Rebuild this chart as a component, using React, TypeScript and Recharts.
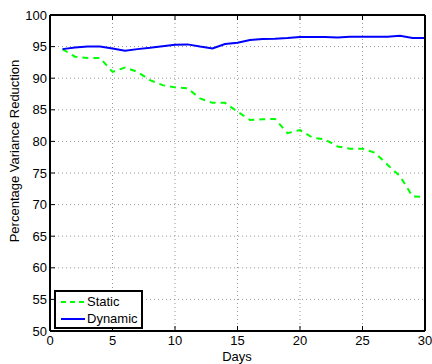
import {
  LineChart,
  Line,
  XAxis,
  YAxis,
  CartesianGrid,
} from 'recharts'

const days = [1, 2, 3, 4, 5, 6, 7, 8, 9, 10, 11, 12, 13, 14, 15, 16, 17, 18, 19, 20, 21, 22, 23, 24, 25, 26, 27, 28, 29, 30]
const staticValues = [94.6, 93.4, 93.2, 93.2, 91.0, 91.7, 91.0, 89.7, 88.9, 88.55, 88.4, 86.8, 86.1, 86.1, 84.7, 83.4, 83.5, 83.55, 81.3, 81.8, 80.6, 80.3, 79.2, 78.85, 78.85, 78.2, 76.3, 74.5, 71.3, 71.2]
const dynamicValues = [94.6, 94.85, 95.0, 95.0, 94.7, 94.35, 94.6, 94.8, 95.05, 95.3, 95.35, 95.0, 94.7, 95.4, 95.6, 96.05, 96.2, 96.25, 96.35, 96.5, 96.5, 96.5, 96.45, 96.55, 96.55, 96.55, 96.55, 96.7, 96.35, 96.35]
const xTicks = [0, 5, 10, 15, 20, 25, 30]
const yTicks = [50, 55, 60, 65, 70, 75, 80, 85, 90, 95, 100]

const data = days.map((d, i) => ({ day: d, Static: staticValues[i], Dynamic: dynamicValues[i] }))

const FONT = '"Liberation Sans", Arial, sans-serif'
const tickStyle = { fontSize: 13, fill: '#000', fontFamily: FONT }
const blank = () => ''

function LegendBox() {
  const items = [
    { name: 'Static', color: '#00ff00', dash: '5 4' },
    { name: 'Dynamic', color: '#0000ff', dash: undefined },
  ]
  return (
    <div
      style={{
        position: 'absolute',
        left: 54,
        top: 290,
        border: '2px solid #000',
        background: '#fff',
        width: 81,
        height: 34,
        padding: '1px 0 0 4px',
        fontFamily: FONT,
        fontSize: 13,
        lineHeight: '17px',
      }}
    >
      {items.map((it) => (
        <div key={it.name} style={{ display: 'flex', alignItems: 'center' }}>
          <svg width={26} height={10}>
            <line x1={1} y1={5} x2={25} y2={5} stroke={it.color} strokeWidth={2} strokeDasharray={it.dash} />
          </svg>
          <span style={{ marginLeft: 1 }}>{it.name}</span>
        </div>
      ))}
    </div>
  )
}

export default function App() {
  return (
    <div style={{ position: 'absolute', left: 0, top: 0, width: 432, height: 364, background: '#fff' }}>
      <LineChart width={432} height={364} data={data} margin={{ top: 14, right: 6, bottom: 0, left: 0 }}>
        <CartesianGrid stroke="#999" strokeDasharray="1 3" vertical horizontal />
        <XAxis
          dataKey="day"
          type="number"
          domain={[0, 30]}
          ticks={xTicks}
          height={33}
          tickSize={-5}
          tickMargin={10}
          tick={tickStyle}
          stroke="#000"
          axisLine={{ strokeWidth: 2 }}
          interval={0}
        />
        <XAxis
          xAxisId="top"
          dataKey="day"
          type="number"
          orientation="top"
          domain={[0, 30]}
          ticks={xTicks}
          height={1}
          tickSize={-5}
          tickFormatter={blank}
          stroke="#000"
          axisLine={{ strokeWidth: 2 }}
          interval={0}
        />
        <YAxis
          type="number"
          domain={[50, 100]}
          ticks={yTicks}
          width={50}
          tickSize={-5}
          tickMargin={8}
          tick={tickStyle}
          stroke="#000"
          axisLine={{ strokeWidth: 2 }}
          interval={0}
        />
        <YAxis
          yAxisId="right"
          orientation="right"
          type="number"
          domain={[50, 100]}
          ticks={yTicks}
          width={1}
          tickSize={-5}
          tickFormatter={blank}
          stroke="#000"
          axisLine={{ strokeWidth: 2 }}
          interval={0}
        />
        <Line
          type="linear"
          dataKey="Static"
          stroke="#00ff00"
          strokeWidth={2}
          strokeDasharray="6 5"
          dot={false}
          isAnimationActive={false}
        />
        <Line
          type="linear"
          dataKey="Dynamic"
          stroke="#0000ff"
          strokeWidth={2}
          dot={false}
          isAnimationActive={false}
        />
        <text x={237} y={361} textAnchor="middle" style={tickStyle}>Days</text>
        <text
          x={0}
          y={0}
          transform="translate(19,151) rotate(-90)"
          textAnchor="middle"
          style={tickStyle}
        >
          Percentage Variance Reduction
        </text>
      </LineChart>
      <LegendBox />
    </div>
  )
}
